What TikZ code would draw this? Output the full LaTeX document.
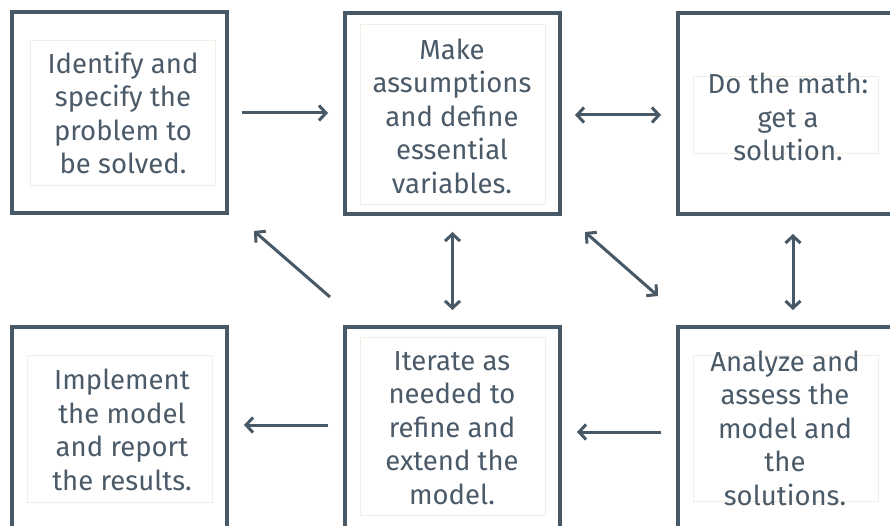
\documentclass[tikz,border=0pt]{standalone}
\usepackage{fontspec}
\setmainfont{Fira Sans}
\usetikzlibrary{arrows.meta}
\definecolor{slate}{HTML}{475866}
\definecolor{txt}{HTML}{4A5A68}
\definecolor{inner}{HTML}{F1EEE6}
\tikzset{
  box/.style={draw=slate, line width=4pt, minimum width=215pt, minimum height=201pt, inner sep=0pt},
  innerbox/.style={draw=inner, line width=0.8pt, inner sep=0pt},
  label/.style={text=txt, align=center, font=\fontsize{27.5}{33.5}\selectfont, inner sep=0pt},
  conn/.style={draw=slate, line width=3pt, -{Straight Barb[length=7pt,width=15pt]}},
  dconn/.style={draw=slate, line width=3pt, {Straight Barb[length=7pt,width=15pt]}-{Straight Barb[length=7pt,width=15pt]}}
}
\begin{document}
\begin{tikzpicture}[x=1pt,y=-1pt]
\useasboundingbox (0,0) rectangle (890,526);
\clip (0,0) rectangle (890,526);
\fill[white] (0,0) rectangle (890,526);
% inner faint rectangles
\draw[innerbox] (30,40) rectangle (215,185);
\draw[innerbox] (360,24) rectangle (545,204);
\draw[innerbox] (693,76) rectangle (878,153);
\draw[innerbox] (27,355) rectangle (212,502);
\draw[innerbox] (360,337) rectangle (545,515);
\draw[innerbox] (693,355) rectangle (878,501);
% outer boxes
\node[box] (b1) at (119.5,112.5) {};
\node[box] (b2) at (452.5,113.5) {};
\node[box] (b3) at (785.5,113.5) {};
\node[box] (b6) at (119.5,427.5) {};
\node[box] (b4) at (452.5,427.5) {};
\node[box] (b5) at (785.5,427.5) {};
% texts
\node[label] (t1) at (123,113) {Identify and\\specify the\\problem to\\be solved.};
\node[label] (t2) at (452,116) {Make\\assumptions\\and define\\essential\\variables.};
\node[label] (t3) at (788,117) {Do the math:\\get a\\solution.};
\node[label] (t4) at (452,428) {Iterate as\\needed to\\refine and\\extend the\\model.};
\node[label] (t5) at (785,428) {Analyze and\\assess the\\model and\\the\\solutions.};
\node[label] (t6) at (122,430) {Implement\\the model\\and report\\the results.};
% connectors
\draw[conn] ([xshift=13pt,yshift=-0.5pt]b1.east) -- ([xshift=-15pt,yshift=0.5pt]b2.west);
\draw[dconn] ([xshift=13pt,yshift=-1.5pt]b2.east) -- ([xshift=-15pt,yshift=-1.5pt]b3.west);
\draw[dconn] ([yshift=-16pt]b2.south) -- ([yshift=15pt]b4.north);
\draw[dconn] ([xshift=7.5pt,yshift=-18pt]b3.south) -- ([xshift=7.5pt,yshift=15pt]b5.north);
\draw[conn] ([xshift=-122.5pt,yshift=28pt]b4.north) -- ([xshift=25pt,yshift=-16pt]b1.south east);
\draw[dconn] ([xshift=23pt,yshift=-16pt]b2.south east) -- ([xshift=-18pt,yshift=29pt]b5.north west);
\draw[conn] ([xshift=-15pt,yshift=-4.5pt]b5.west) -- ([xshift=15pt,yshift=-4.5pt]b4.east);
\draw[conn] ([xshift=-15pt,yshift=2.5pt]b4.west) -- ([xshift=15pt,yshift=2.5pt]b6.east);
\end{tikzpicture}
\end{document}
